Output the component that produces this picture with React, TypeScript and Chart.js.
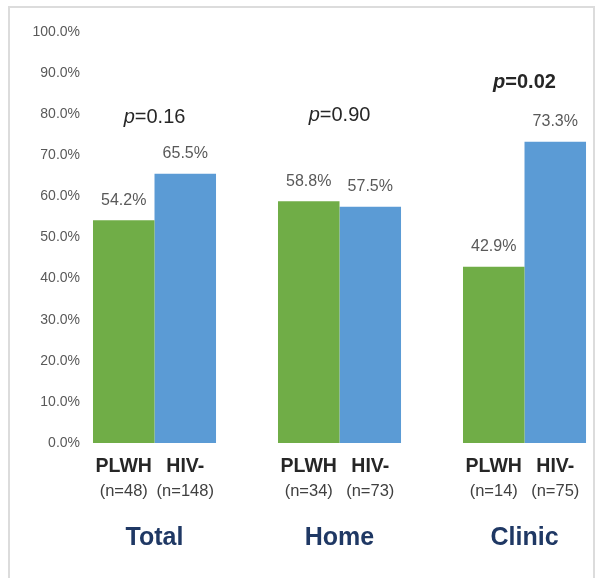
import React, { useEffect, useRef } from 'react';
import { Chart, registerables } from 'chart.js';

Chart.register(...registerables);

const groups = ['Total', 'Home', 'Clinic'];
const seriesNames = ['PLWH', 'HIV-'];
const plwhValues = [54.2, 58.8, 42.9];
const hivNegValues = [65.5, 57.5, 73.3];
const plwhN = [48, 34, 14];
const hivNegN = [148, 73, 75];
const pValues = ['0.16', '0.90', '0.02'];
const pSignificant = [false, false, true];
// level (in y-axis units, %) at which each p-value annotation sits
const pLabelLevel = [79.3, 79.8, 87.8];
const yTicks = [0, 10, 20, 30, 40, 50, 60, 70, 80, 90, 100];

const FONT = '"Liberation Sans", Arial, sans-serif';
const GREEN = '#70AD47';
const BLUE = '#5B9BD5';

const labelsPlugin = {
  id: 'customLabels',
  beforeDraw(chart: any) {
    const ctx = chart.ctx;
    ctx.save();
    ctx.fillStyle = '#ffffff';
    ctx.fillRect(0, 0, chart.width, chart.height);
    ctx.strokeStyle = '#dcdcdc';
    ctx.lineWidth = 2;
    ctx.beginPath();
    ctx.moveTo(9, chart.height + 5);
    ctx.lineTo(9, 7);
    ctx.lineTo(594, 7);
    ctx.lineTo(594, chart.height + 5);
    ctx.stroke();
    ctx.restore();
  },
  afterDatasetsDraw(chart: any) {
    const ctx = chart.ctx;
    const xs = chart.scales.x;
    const ys = chart.scales.y;
    const bottom = chart.chartArea.bottom;
    const nArr = [plwhN, hivNegN];
    ctx.save();
    ctx.textAlign = 'center';
    ctx.textBaseline = 'middle';
    chart.data.datasets.forEach((ds: any, di: number) => {
      const meta = chart.getDatasetMeta(di);
      meta.data.forEach((bar: any, i: number) => {
        const v = ds.data[i].y;
        ctx.font = '16px ' + FONT;
        ctx.fillStyle = '#595959';
        ctx.fillText(v.toFixed(1) + '%', bar.x, bar.y - 20);
        ctx.font = 'bold 19.5px ' + FONT;
        ctx.fillStyle = '#262626';
        ctx.fillText(seriesNames[di], bar.x, bottom + 24);
        ctx.font = '16.5px ' + FONT;
        ctx.fillStyle = '#404040';
        ctx.fillText('(n=' + nArr[di][i] + ')', bar.x, bottom + 48);
      });
    });
    groups.forEach((g, i) => {
      const gx = xs.getPixelForValue(i);
      ctx.textAlign = 'center';
      ctx.font = 'bold 25px ' + FONT;
      ctx.fillStyle = '#1F3864';
      ctx.fillText(g, gx, bottom + 95);

      const py = ys.getPixelForValue(pLabelLevel[i]);
      const weight = pSignificant[i] ? 'bold ' : '';
      const pFont = 'italic ' + weight + '20px ' + FONT;
      const restFont = weight + '20px ' + FONT;
      const rest = '=' + pValues[i];
      ctx.font = pFont;
      const wp = ctx.measureText('p').width;
      ctx.font = restFont;
      const wr = ctx.measureText(rest).width;
      const start = gx - (wp + wr) / 2;
      ctx.textAlign = 'left';
      ctx.fillStyle = '#262626';
      ctx.font = pFont;
      ctx.fillText('p', start, py);
      ctx.font = restFont;
      ctx.fillText(rest, start + wp, py);
    });
    ctx.restore();
  },
};

export default function App() {
  const ref = useRef<HTMLCanvasElement | null>(null);
  useEffect(() => {
    if (!ref.current) return;
    const chart = new Chart(ref.current, {
      type: 'bar',
      data: {
        datasets: [
          {
            label: seriesNames[0],
            data: plwhValues.map((v, i) => ({ x: i, y: v })),
            backgroundColor: GREEN,
            categoryPercentage: 0.665,
            barPercentage: 1,
          },
          {
            label: seriesNames[1],
            data: hivNegValues.map((v, i) => ({ x: i, y: v })),
            backgroundColor: BLUE,
            categoryPercentage: 0.665,
            barPercentage: 1,
          },
        ],
      },
      options: {
        responsive: false,
        animation: false,
        layout: { padding: { top: 32, bottom: 135, left: 0, right: 5 } },
        plugins: {
          legend: { display: false },
          tooltip: { enabled: false },
        },
        scales: {
          x: {
            type: 'linear',
            display: false,
            offset: false,
            grid: { offset: false },
            min: -0.3595,
            max: 2.354,
            afterBuildTicks: (s: any) => {
              s.ticks = groups.map((_, i) => ({ value: i }));
            },
          },
          y: {
            min: 0,
            max: 100,
            grid: { display: false, drawTicks: false },
            border: { display: false },
            afterFit: (s: any) => {
              s.width = 88;
            },
            afterBuildTicks: (s: any) => {
              s.ticks = yTicks.map((v) => ({ value: v }));
            },
            ticks: {
              padding: 8,
              color: '#595959',
              font: { family: FONT, size: 14 },
              callback: (v: any) => Number(v).toFixed(1) + '%',
            },
          },
        },
      },
      plugins: [labelsPlugin],
    } as any);
    return () => chart.destroy();
  }, []);
  return (
    <div style={{ position: 'absolute', left: 0, top: 0, width: 595, height: 578 }}>
      <canvas ref={ref} width={595} height={578} />
    </div>
  );
}
